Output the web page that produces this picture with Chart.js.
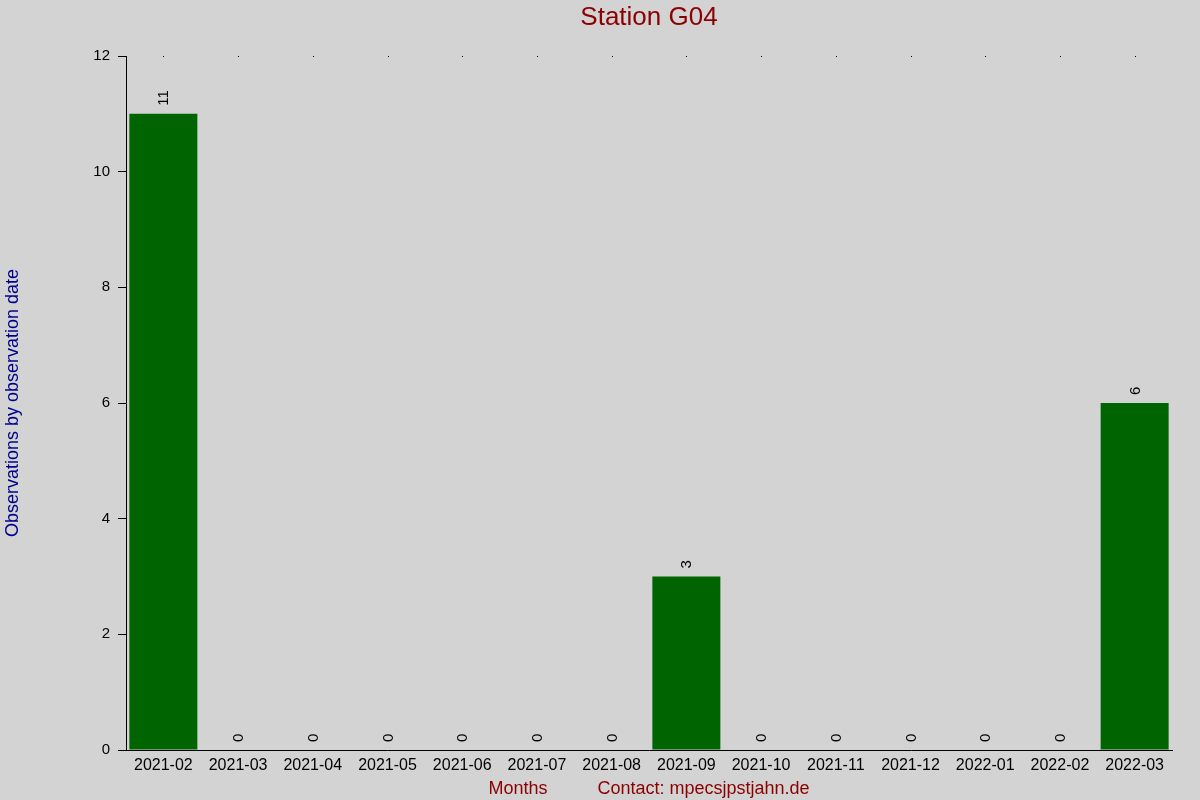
<!DOCTYPE html>
<html>
<head>
<meta charset="utf-8">
<script src="https://cdn.jsdelivr.net/npm/chart.js@4.4.1/dist/chart.umd.min.js"></script>
<style>
  html, body { margin: 0; padding: 0; background: #d3d3d3; }
  #wrap { width: 1200px; height: 800px; }
</style>
</head>
<body>
<div id="wrap"><canvas id="graph" width="1200" height="800"></canvas></div>
<script>
const months = ["2021-02","2021-03","2021-04","2021-05","2021-06","2021-07","2021-08",
                "2021-09","2021-10","2021-11","2021-12","2022-01","2022-02","2022-03"];
const observations = [11, 0, 0, 0, 0, 0, 0, 3, 0, 0, 0, 0, 0, 6];
const yTicks = [0, 2, 4, 6, 8, 10, 12];
const chartTitle = 'Station G04';

const FONT = "'Liberation Sans', Arial, sans-serif";

// value written sideways above every bar
const barLabels = {
    id: 'barLabels',
    afterDatasetsDraw(chart) {
        const ctx = chart.ctx;
        const meta = chart.getDatasetMeta(0);
        ctx.save();
        ctx.fillStyle = '#000000';
        ctx.font = '15px ' + FONT;
        ctx.textAlign = 'left';
        ctx.textBaseline = 'middle';
        meta.data.forEach((bar, i) => {
            ctx.save();
            ctx.translate(bar.x + 1, bar.y - 8);
            ctx.rotate(-Math.PI / 2);
            ctx.fillText(String(observations[i]), 0, 0);
            ctx.restore();
        });
        ctx.restore();
    }
};

// tiny dots on the top edge at each month, and the title over the plot area
const topDecor = {
    id: 'topDecor',
    afterDraw(chart) {
        const ctx = chart.ctx;
        const x = chart.scales.x;
        const area = chart.chartArea;
        ctx.save();
        ctx.fillStyle = '#000000';
        months.forEach((m, i) => {
            ctx.fillRect(Math.round(x.getPixelForTick(i)), area.top, 1, 1);
        });
        ctx.fillStyle = '#8b0000';
        ctx.font = '26px ' + FONT;
        ctx.textAlign = 'center';
        ctx.textBaseline = 'middle';
        ctx.fillText(chartTitle, (area.left + area.right) / 2, 18);
        ctx.restore();
    }
};

const ctx = document.getElementById('graph').getContext('2d');
const graph = new Chart(ctx, {
    type: 'bar',
    data: {
        labels: months,
        datasets: [{
            label: 'Observations',
            data: observations,
            backgroundColor: '#006400',
            borderWidth: 0,
            barPercentage: 0.91,
            categoryPercentage: 1.0
        }]
    },
    options: {
        responsive: false,
        animation: false,
        layout: { padding: { left: 0, right: 28, top: 56, bottom: 0 } },
        scales: {
            x: {
                offset: true,
                grid: { display: true, drawOnChartArea: false, drawTicks: false },
                border: { display: true, color: '#000000', width: 1 },
                ticks: {
                    color: '#000000',
                    font: { family: FONT, size: 16 },
                    maxRotation: 0,
                    autoSkip: false,
                    padding: 6
                },
                title: {
                    display: true,
                    text: 'Months          Contact: mpecsjpstjahn.de',
                    color: '#8b0000',
                    font: { family: FONT, size: 18 },
                    padding: { top: 2, bottom: 0 }
                },
                afterFit(scale) { scale.height = 50; }
            },
            y: {
                min: 0,
                max: 12,
                afterBuildTicks(scale) {
                    scale.ticks = yTicks.map(v => ({ value: v }));
                },
                grid: {
                    display: true,
                    drawOnChartArea: false,
                    drawTicks: true,
                    tickLength: 8,
                    color: '#000000'
                },
                border: { display: true, color: '#000000', width: 1 },
                ticks: {
                    color: '#000000',
                    font: { family: FONT, size: 15 },
                    padding: 8
                },
                title: {
                    display: true,
                    text: 'Observations by observation date',
                    color: '#00008b',
                    font: { family: FONT, size: 18 },
                    padding: { top: 2, bottom: 0 }
                },
                afterFit(scale) { scale.width = 126; }
            }
        },
        plugins: {
            legend: { display: false },
            tooltip: { enabled: false },
            title: { display: false }
        }
    },
    plugins: [barLabels, topDecor]
});
</script>
</body>
</html>
